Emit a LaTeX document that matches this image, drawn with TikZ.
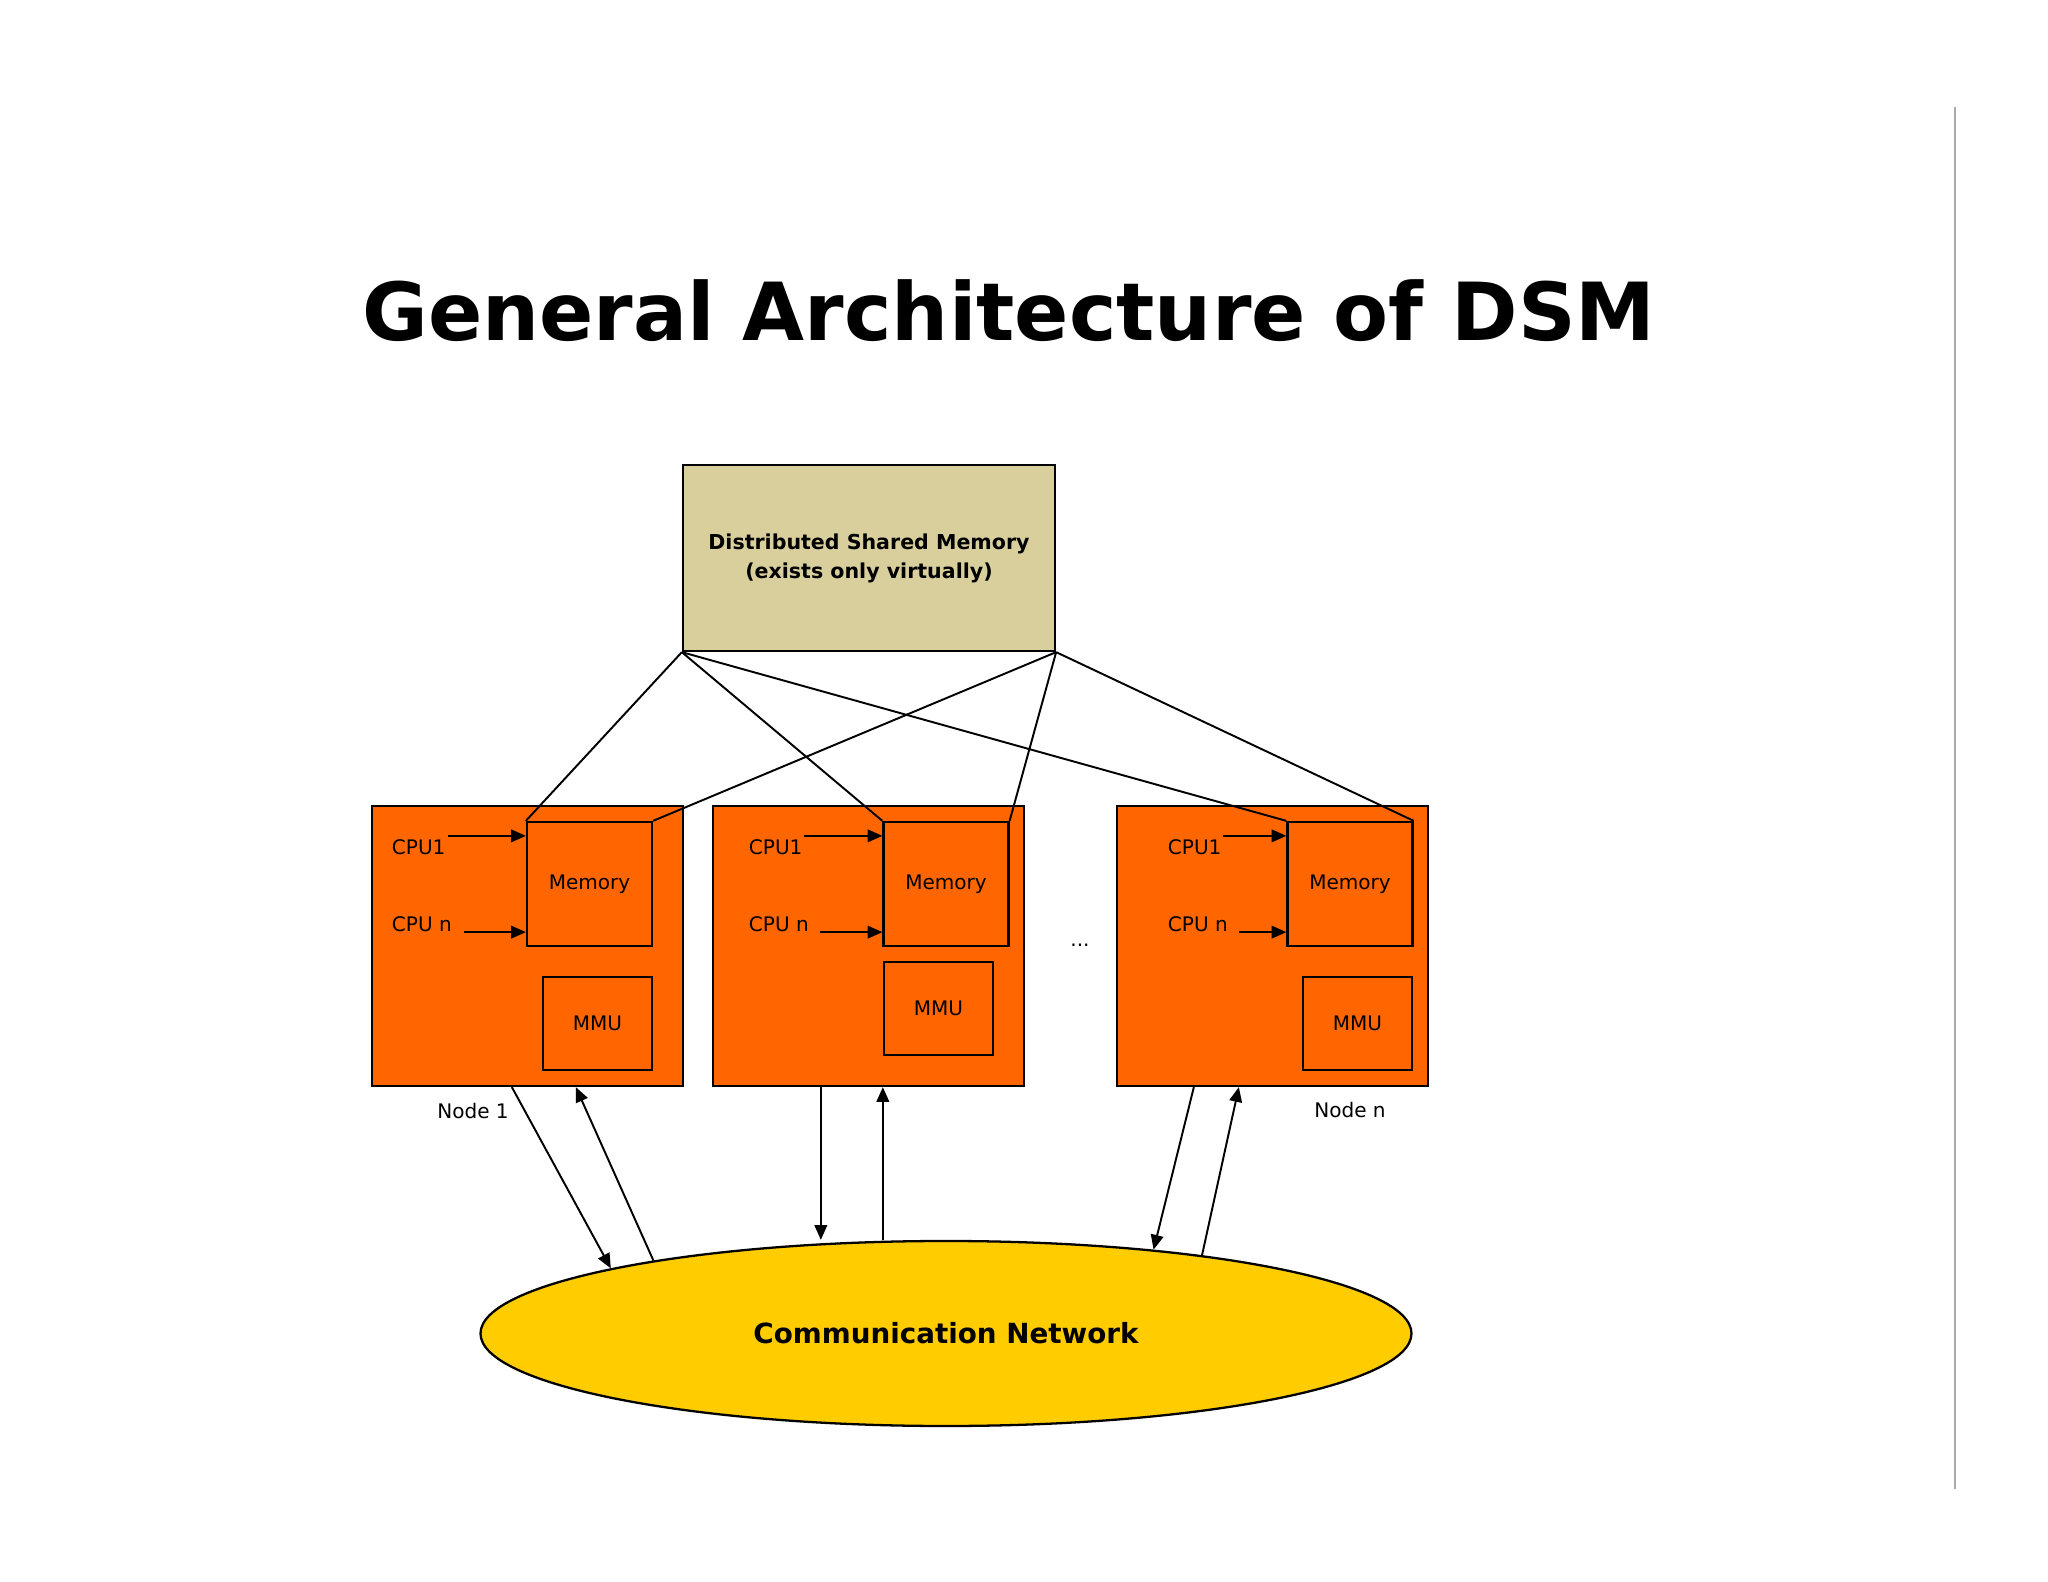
\documentclass[tikz,border=0pt]{standalone}
\usepackage{fontspec}
\setmainfont{DejaVu Sans}
\usetikzlibrary{arrows.meta,calc,shapes.geometric}

\definecolor{nodeorange}{HTML}{FF6600}
\definecolor{dsmtan}{HTML}{D9CF9C}
\definecolor{netyellow}{HTML}{FFCC00}
\definecolor{rulegrey}{HTML}{AAAAAA}

\begin{document}
\begin{tikzpicture}[>={Triangle[length=4.2pt,width=3.6pt]},line width=0.55pt,
  node box/.style={rectangle,draw,fill=nodeorange,line width=0.65pt,minimum width=3.11cm,minimum height=2.80cm,inner sep=0},
  mem box/.style={rectangle,draw,fill=nodeorange,line width=0.65pt,minimum width=1.25cm,minimum height=1.24cm,inner sep=0,font=\fontsize{5.7}{6.8}\selectfont},
  mmu box/.style={mem box,minimum width=1.09cm,minimum height=0.93cm},
  cpu label/.style={anchor=base west,inner sep=0,font=\fontsize{5.7}{6.8}\selectfont},
  small label/.style={anchor=base,inner sep=0,font=\fontsize{5.7}{6.8}\selectfont}]

\path[fill=white] (0,0) rectangle (20.48,-15.82);
\useasboundingbox (0,0) rectangle (20.48,-15.82);

\node[anchor=base,font=\bfseries\fontsize{22.8}{27}\selectfont](title) at (10.09,-3.41) {General Architecture of DSM};

\node[rectangle,draw,fill=dsmtan,line width=0.65pt,minimum width=3.72cm,minimum height=1.86cm,inner sep=0,align=center,
  font=\bfseries\fontsize{5.85}{8.25}\selectfont](DSM) at (8.69,-5.58) {Distributed Shared Memory\\(exists only virtually)};

% the nodes
\node[node box](N1) at (5.275,-9.46) {};
\node[node box](N2) at (8.685,-9.46) {};
\node[node box](N3) at (12.725,-9.46) {};

\node[mem box](M1) at (5.895,-8.84) {Memory};
\node[mem box](M2) at (9.46,-8.84) {Memory};
\node[mem box](M3) at (13.50,-8.84) {Memory};
\node[mmu box](U1) at (5.975,-10.235) {MMU};
\node[mmu box](U2) at (9.385,-10.085) {MMU};
\node[mmu box](U3) at (13.575,-10.235) {MMU};

\node[cpu label](C1a) at (3.91,-8.54) {CPU1};
\node[cpu label](C1b) at (3.91,-9.32) {CPU n};
\node[cpu label](C2a) at (7.48,-8.54) {CPU1};
\node[cpu label](C2b) at (7.48,-9.32) {CPU n};
\node[cpu label](C3a) at (11.67,-8.54) {CPU1};
\node[cpu label](C3b) at (11.67,-9.32) {CPU n};

\node[small label](L1) at (4.73,-11.18) {Node 1};
\node[small label](L3) at (13.50,-11.17) {Node n};
\node[small label](dots) at (10.80,-9.46) {...};

\node[ellipse,draw,fill=netyellow,line width=0.65pt,minimum width=9.31cm,minimum height=1.85cm,inner sep=0,
  font=\bfseries\fontsize{7.9}{9}\selectfont](net) at (9.46,-13.335) {Communication Network};

\draw[rulegrey,line width=0.6pt] (19.55,-1.07) -- (19.55,-14.89);

\path
(DSM.south west) edge (M1.north west)
(DSM.south west) edge (M2.north west)
(DSM.south west) edge (M3.north west)
(DSM.south east) edge (M1.north east)
(DSM.south east) edge (M2.north east)
(DSM.south east) edge (M3.north east);

\path[->]
($(M1.north west)+(-0.78,-0.15)$) edge ($(M1.north west)+(0,-0.15)$)
($(M1.south west)+(-0.62,0.15)$) edge ($(M1.south west)+(0,0.15)$)
($(M2.north west)+(-0.78,-0.15)$) edge ($(M2.north west)+(0,-0.15)$)
($(M2.south west)+(-0.62,0.15)$) edge ($(M2.south west)+(0,0.15)$)
($(M3.north west)+(-0.63,-0.15)$) edge ($(M3.north west)+(0,-0.15)$)
($(M3.south west)+(-0.47,0.15)$) edge ($(M3.south west)+(0,0.15)$);

\coordinate (d2) at ($(N2.south west)+(1.09,0)$);
\coordinate (u2) at ($(N2.south west)+(1.71,0)$);

\path[->]
($(N1.south west)+(1.41,0)$) edge (net.169.9)
(net.166.3) edge ($(N1.south west)+(2.05,0)$)
(d2) edge (d2 |- net.north)
(u2 |- net.north) edge (u2)
($(N3.south west)+(0.78,0)$) edge (net.22.2)
(net.17.5) edge ($(N3.south west)+(1.23,0)$);
\end{tikzpicture}
\end{document}
